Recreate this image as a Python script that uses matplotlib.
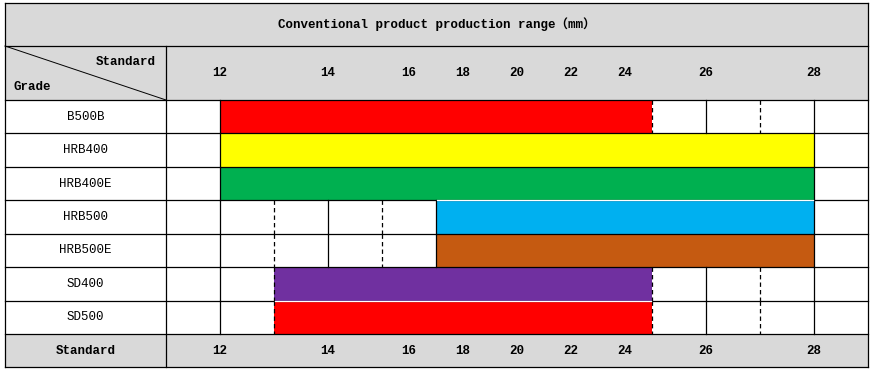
import matplotlib.pyplot as plt
from matplotlib.patches import Rectangle

# Table content
title = "Conventional product production range\uff08mm\uff09"
grades = ["B500B", "HRB400", "HRB400E", "HRB500", "HRB500E", "SD400", "SD500"]
# bar extents, in grid columns (column 1 = 12 mm line, column 12 = 28 mm line)
bar_start = [1, 1, 1, 5, 5, 2, 2]
bar_end = [9, 12, 12, 12, 12, 9, 9]
bar_colors = ["#FF0000", "#FFFF00", "#00B050", "#00B0F0", "#C55A11", "#7030A0", "#FF0000"]
size_labels = ["12", "14", "16", "18", "20", "22", "24", "26", "28"]
size_cols = [1, 3, 4.5, 5.5, 6.5, 7.5, 8.5, 10, 12]

# Layout in pixels
W, H = 873, 370
LEFT, RIGHT, TOP, BOTTOM = 5, 868, 3, 367
GRID_X0, CW = 166, 54
TITLE_B, HEAD_B, FOOT_T = 46, 100, 334
ROW_H = (FOOT_T - HEAD_B) / len(grades)
GRAY = "#D9D9D9"
LW = 0.9

solid_cols = [1, 3, 5, 10, 12]
dashed_cols = [2, 4, 9, 11]
white_gap_rows = [3, 6]  # rows whose top edge shows a thin white seam under the bar above

def cx(c):
    return GRID_X0 + c * CW

fig = plt.figure(figsize=(W / 100, H / 100), dpi=100)
ax = fig.add_axes([0, 0, 1, 1])
ax.set_xlim(0, W)
ax.set_ylim(H, 0)
ax.axis("off")

font = ["Liberation Mono", "Noto Sans CJK SC"]
FS = 9

# gray bands
for y0, y1 in [(TOP, TITLE_B), (TITLE_B, HEAD_B), (FOOT_T, BOTTOM)]:
    ax.add_patch(Rectangle((LEFT, y0), RIGHT - LEFT, y1 - y0, facecolor=GRAY, edgecolor="none", zorder=0))

# bars
for i, g in enumerate(grades):
    y0 = HEAD_B + i * ROW_H
    ax.barh(y0 + ROW_H / 2, cx(bar_end[i]) - cx(bar_start[i]), left=cx(bar_start[i]),
            height=ROW_H, color=bar_colors[i], edgecolor="none", zorder=1)
    ax.text((LEFT + GRID_X0) / 2, y0 + ROW_H / 2, g, ha="center", va="center",
            fontsize=FS, family=font, zorder=5)
    # vertical grid lines not hidden by the bar
    for c in solid_cols + dashed_cols:
        if bar_start[i] < c < bar_end[i]:
            continue
        ls = (0, (3.5, 2.5)) if c in dashed_cols else "-"
        ax.plot([cx(c), cx(c)], [y0, y0 + ROW_H], color="black", lw=LW, ls=ls, zorder=3)

# horizontal lines
for y in [TOP, TITLE_B, HEAD_B, FOOT_T, BOTTOM]:
    ax.plot([LEFT, RIGHT], [y, y], color="black", lw=LW, zorder=4)
for i in range(1, len(grades)):
    y = HEAD_B + i * ROW_H
    ax.plot([LEFT, RIGHT], [y, y], color="black", lw=LW, zorder=4)
    if i in white_gap_rows:
        x0 = cx(max(bar_start[i], bar_start[i - 1])) + 1
        x1 = cx(min(bar_end[i], bar_end[i - 1])) - 1
        ax.plot([x0, x1], [y, y], color="white", lw=LW, zorder=4.5)

# outer verticals and first column separator
ax.plot([LEFT, LEFT], [TOP, BOTTOM], color="black", lw=LW, zorder=4)
ax.plot([RIGHT, RIGHT], [TOP, BOTTOM], color="black", lw=LW, zorder=4)
ax.plot([GRID_X0, GRID_X0], [TITLE_B, BOTTOM], color="black", lw=LW, zorder=4)

# diagonal header cell
ax.plot([LEFT, GRID_X0], [TITLE_B, HEAD_B], color="black", lw=0.7, zorder=4)

# texts
ax.text((LEFT + RIGHT) / 2, (TOP + TITLE_B) / 2, title, ha="center", va="center",
        fontsize=FS, fontweight="bold", family=font, zorder=5)
ax.text(GRID_X0 - 10, TITLE_B + 16, "Standard", ha="right", va="center",
        fontsize=FS, fontweight="bold", family=font, zorder=5)
ax.text(LEFT + 9, HEAD_B - 13, "Grade", ha="left", va="center",
        fontsize=FS, fontweight="bold", family=font, zorder=5)
ax.text((LEFT + GRID_X0) / 2, (FOOT_T + BOTTOM) / 2, "Standard", ha="center", va="center",
        fontsize=FS, fontweight="bold", family=font, zorder=5)
for lab, c in zip(size_labels, size_cols):
    ax.text(cx(c), (TITLE_B + HEAD_B) / 2, lab, ha="center", va="center",
            fontsize=FS, fontweight="bold", family=font, zorder=5)
    ax.text(cx(c), (FOOT_T + BOTTOM) / 2, lab, ha="center", va="center",
            fontsize=FS, fontweight="bold", family=font, zorder=5)

fig.savefig("out.png", dpi=100)
